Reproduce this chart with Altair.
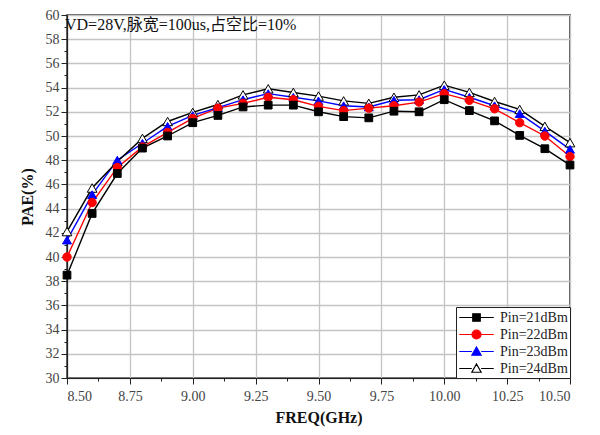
import altair as alt
import pandas as pd

freq = [8.5, 8.6, 8.7, 8.8, 8.9, 9.0, 9.1, 9.2, 9.3, 9.4, 9.5,
        9.6, 9.7, 9.8, 9.9, 10.0, 10.1, 10.2, 10.3, 10.4, 10.5]
series_names = ["Pin=21dBm", "Pin=22dBm", "Pin=23dBm", "Pin=24dBm"]
p21 = [38.5, 43.6, 46.9, 49.0, 50.0, 51.1, 51.7, 52.4, 52.55, 52.55, 52.0,
       51.6, 51.5, 52.05, 52.0, 53.0, 52.1, 51.25, 50.05, 48.95, 47.6]
p22 = [40.0, 44.5, 47.4, 49.1, 50.3, 51.45, 52.3, 52.7, 53.2, 53.0, 52.45,
       52.1, 52.3, 52.5, 52.8, 53.5, 52.95, 52.25, 51.1, 50.0, 48.3]
p23 = [41.4, 45.15, 48.0, 49.4, 50.8, 51.7, 52.35, 53.0, 53.5, 53.2, 52.9,
       52.5, 52.4, 52.95, 53.0, 53.85, 53.2, 52.5, 51.85, 50.4, 48.9]
p24 = [42.1, 45.7, 47.9, 49.8, 51.2, 51.95, 52.6, 53.4, 53.9, 53.6, 53.3,
       52.9, 52.7, 53.2, 53.4, 54.2, 53.6, 52.85, 52.2, 50.8, 49.45]
annotation = ["VD=28V,脉宽=100us,占空比=10%"]

line_colors = ["#000000", "#ff0000", "#0000ff", "#000000"]
fill_colors = ["#000000", "#ff0000", "#0000ff", "#ffffff"]
marker_shapes = ["square", "circle", "triangle-up", "triangle-up"]
marker_sizes = [60, 70, 80, 95]
legend_paths = [
    "M-2.3,0H-0.5M0.5,0H2.3M-0.5,-0.5H0.5V0.5H-0.5Z",
    "M-2.3,0H-0.6M0.6,0H2.3M0.6,0A0.6,0.6,0,1,1,-0.6,0A0.6,0.6,0,1,1,0.6,0Z",
    "M-2.3,0H-0.62M0.62,0H2.3M0,-0.6L0.62,0.5H-0.62Z",
    "M-2.3,0H-0.62M0.62,0H2.3M0,-0.6L0.62,0.5H-0.62Z",
]

rows = []
for name, vals in zip(series_names, [p21, p22, p23, p24]):
    for f, v in zip(freq, vals):
        rows.append({"freq": f, "pae": v, "series": name})
df = pd.DataFrame(rows)

x_ticks = [8.5 + 0.125 * i for i in range(17)]
y_ticks = list(range(30, 61))

font = "Liberation Serif, Noto Sans CJK SC"
xmajor = "abs(datum.value*4 - round(datum.value*4)) < 0.001"
ymajor = "datum.value % 2 == 0"

x_enc = alt.X(
    "freq:Q",
    scale=alt.Scale(domain=[8.5, 10.5], nice=False, zero=False),
    axis=alt.Axis(
        values=x_ticks,
        labelExpr=f"{xmajor} ? format(datum.value, '.2f') : ''",
        gridOpacity={"condition": {"test": xmajor, "value": 1}, "value": 0},
        tickSize={"condition": {"test": xmajor, "value": 6}, "value": 3},
        title="FREQ(GHz)",
        titlePadding=6,
        labelPadding=5,
    ),
)
y_enc = alt.Y(
    "pae:Q",
    scale=alt.Scale(domain=[30, 60], nice=False, zero=False),
    axis=alt.Axis(
        values=y_ticks,
        labelExpr=f"{ymajor} ? datum.label : ''",
        gridOpacity={"condition": {"test": ymajor, "value": 1}, "value": 0},
        tickSize={"condition": {"test": ymajor, "value": 6}, "value": 3},
        title="PAE(%)",
        titlePadding=10,
        labelPadding=2,
    ),
)

base = alt.Chart(df)
layers = []
for i, name in enumerate(series_names):
    layers.append(
        base.transform_filter(alt.datum.series == name)
        .mark_line(color=line_colors[i], strokeWidth=1.4)
        .encode(x=x_enc, y=y_enc)
    )
for i in [3, 2, 1, 0]:
    name = series_names[i]
    layers.append(
        base.transform_filter(alt.datum.series == name)
        .mark_point(shape=marker_shapes[i], filled=True, fill=fill_colors[i],
                    stroke="#000000" if i == 3 else fill_colors[i],
                    strokeWidth=1, size=marker_sizes[i], opacity=1)
        .encode(x=x_enc, y=y_enc)
    )

legend_layer = base.mark_point(clip=True, size=225, opacity=1, strokeWidth=1.2).encode(
    x=alt.value(-1000),
    y=alt.value(-1000),
    shape=alt.Shape("series:N", scale=alt.Scale(domain=series_names, range=legend_paths), title=None),
    fill=alt.Fill("series:N", scale=alt.Scale(domain=series_names, range=fill_colors), title=None),
    stroke=alt.Stroke("series:N", scale=alt.Scale(domain=series_names, range=line_colors), title=None),
)
layers.append(legend_layer)

ann = alt.Chart(pd.DataFrame({"t": annotation})).mark_text(
    align="left", baseline="top", font=font, fontSize=16, color="#111"
).encode(x=alt.value(-2), y=alt.value(2), text="t:N")
layers.append(ann)

chart = (
    alt.layer(*layers)
    .properties(width=503, height=363, autosize=alt.AutoSizeParams(type="none"),
                padding={"left": 67, "top": 15, "right": 30, "bottom": 57})
    .configure_view(stroke="#222", strokeWidth=1.5)
    .configure_axis(
        labelFont=font, labelFontSize=14, labelColor="#444",
        titleFont=font, titleFontSize=16, titleFontWeight="bold", titleColor="#111",
        gridColor="#c4c4c4", gridWidth=1.3, domainColor="#222", domainWidth=1.2,
        tickColor="#222",
    )
    .configure_legend(
        orient="bottom-right", offset=0, strokeColor="#222", fillColor="white",
        padding=2, cornerRadius=0, labelFont=font, labelFontSize=14, labelColor="#222",
        symbolSize=225, symbolOffset=10, labelOffset=15, rowPadding=1,
        symbolStrokeWidth=1.2, symbolOpacity=1,
    )
)

chart.save("out.html", embed_options={"renderer": "svg", "actions": False})
